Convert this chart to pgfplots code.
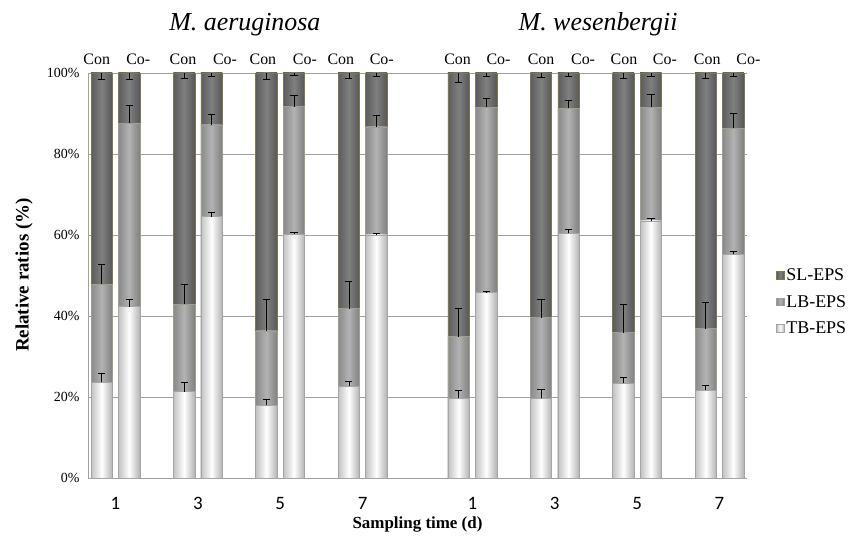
\documentclass[border=0pt]{standalone}
\usepackage{fontspec}
\setmainfont{Liberation Serif}
\newfontfamily\calibri{Carlito}
\usepackage{pgfplots}
\usepackage{pgfplotstable}
\pgfplotsset{compat=1.18}

\definecolor{slborder}{RGB}{128,118,78}
\definecolor{lbborder}{RGB}{160,158,140}
\definecolor{tbborder}{RGB}{165,165,165}
\definecolor{gridc}{RGB}{160,160,160}

% x: bar position; TB, LB, SL: segment percentages; *e: error bars
\pgfplotstableread{
x  TB   TBe  LB   LBe  SL   SLe
0  23.6 2.3  24.3 4.9  52.1 1.5
1  42.3 1.7  45.3 4.5  12.4 1.5
3  21.3 2.3  21.6 4.8  57.1 1.2
4  64.5 1.2  22.7 2.6  12.8 0.8
6  18.0 1.4  18.3 7.8  63.7 1.5
7  60.2 0.4  31.5 2.9  8.3  0.6
9  22.7 1.1  19.1 6.7  58.2 1.2
10 60.0 0.3  26.7 2.9  13.3 0.8
13 19.7 1.9  15.2 7.0  65.1 2.3
14 45.8 0.4  45.7 2.2  8.5  0.8
16 19.7 2.2  19.9 4.5  60.4 1.0
17 60.4 0.9  30.9 2.0  8.7  0.8
19 23.4 1.4  12.5 7.1  64.1 1.2
20 63.5 0.5  28.0 3.2  8.5  0.8
22 21.7 1.3  15.2 6.5  63.1 1.2
23 55.2 0.8  31.1 3.7  13.7 0.8
}\datatable

\pgfplotsset{
  slstyle/.style={draw=slborder, line width=0.6pt, left color=black!64, right color=black!66, middle color=black!50},
  lbstyle/.style={draw=lbborder, line width=0.6pt, left color=black!46, right color=black!50, middle color=black!30},
  tbstyle/.style={draw=tbborder, line width=0.6pt, left color=black!24, right color=black!30, middle color=white},
}

\begin{document}
\begin{tikzpicture}
\useasboundingbox (-88bp,-58bp) rectangle (773bp,478bp);
\begin{axis}[
  scale only axis, width=659bp, height=405bp,
  xmin=-0.5, xmax=23.5, ymin=0, ymax=100,
  clip=false,
  axis lines=left,
  axis line style={-, draw=gridc, line width=0.6pt},
  major tick length=0pt,
  ytick={0,20,40,60,80,100},
  yticklabels={0\%,20\%,40\%,60\%,80\%,100\%},
  yticklabel style={font=\fontsize{14}{16}\selectfont, xshift=-5bp},
  xtick={0.5,3.5,6.5,9.5,13.5,16.5,19.5,22.5},
  xticklabels={1,3,5,7,1,3,5,7},
  xticklabel style={font=\calibri\fontsize{19}{21}\selectfont, yshift=-16bp},
  ymajorgrids,
  grid style={draw=gridc, line width=0.6pt},
  xlabel={Sampling time (d)},
  xlabel style={at={(axis description cs:0.5,-0.116)}, anchor=center, font=\bfseries\fontsize{17}{19}\selectfont},
  ylabel={Relative ratios (\%)},
  ylabel style={at={(axis description cs:-0.097,0.501)}, anchor=center, font=\bfseries\fontsize{19}{21}\selectfont},
  legend style={at={(axis description cs:1.044,0.522)}, anchor=north west, draw=none, fill=none,
    font=\fontsize{18}{20}\selectfont, row sep=9bp, inner sep=0pt,
    nodes={inner xsep=2bp}},
  legend cell align=left,
  legend image code/.code={\draw[#1] (0bp,-3.8bp) rectangle (7.6bp,3.8bp);},
  every axis plot/.append style={ybar, bar width=0.78, bar shift=0pt},
  error bars/error bar style={black, line width=0.7pt},
  error bars/error mark options={black, line width=0.7pt, mark size=3.6bp, rotate=90},
]
\pgfplotsinvokeforeach{0,1,3,4,6,7,9,10,13,14,16,17,19,20,22,23}{
  \addplot[slstyle, forget plot, restrict x to domain=#1:#1,
    error bars/.cd, y dir=minus, y explicit]
    table[x=x, y expr=\thisrow{TB}+\thisrow{LB}+\thisrow{SL}, y error=SLe]{\datatable};
  \addplot[lbstyle, forget plot, restrict x to domain=#1:#1,
    error bars/.cd, y dir=plus, y explicit]
    table[x=x, y expr=\thisrow{TB}+\thisrow{LB}, y error=LBe]{\datatable};
  \addplot[tbstyle, forget plot, restrict x to domain=#1:#1,
    error bars/.cd, y dir=plus, y explicit]
    table[x=x, y=TB, y error=TBe]{\datatable};
}
\addlegendimage{slstyle}
\addlegendentry{SL-EPS}
\addlegendimage{lbstyle}
\addlegendentry{LB-EPS}
\addlegendimage{tbstyle}
\addlegendentry{TB-EPS}

\node[anchor=base, font=\itshape\fontsize{26}{28}\selectfont] at (axis description cs:0.238,1.104) {M. aeruginosa};
\node[anchor=base, font=\itshape\fontsize{26}{28}\selectfont] at (axis description cs:0.774,1.104) {M. wesenbergii};

\begin{scope}[every node/.style={anchor=base, font=\fontsize{16}{18}\selectfont}]
\node at (axis cs:-0.18,102) {Con};
\node at (axis cs:1.33,102) {Co-};
\node at (axis cs:2.96,102) {Con};
\node at (axis cs:4.49,102) {Co-};
\node at (axis cs:5.87,102) {Con};
\node at (axis cs:7.40,102) {Co-};
\node at (axis cs:8.71,102) {Con};
\node at (axis cs:10.2,102) {Co-};
\node at (axis cs:12.96,102) {Con};
\node at (axis cs:14.45,102) {Co-};
\node at (axis cs:16.0,102) {Con};
\node at (axis cs:17.53,102) {Co-};
\node at (axis cs:19.02,102) {Con};
\node at (axis cs:20.51,102) {Co-};
\node at (axis cs:22.05,102) {Con};
\node at (axis cs:23.55,102) {Co-};
\end{scope}
\end{axis}
\end{tikzpicture}
\end{document}
